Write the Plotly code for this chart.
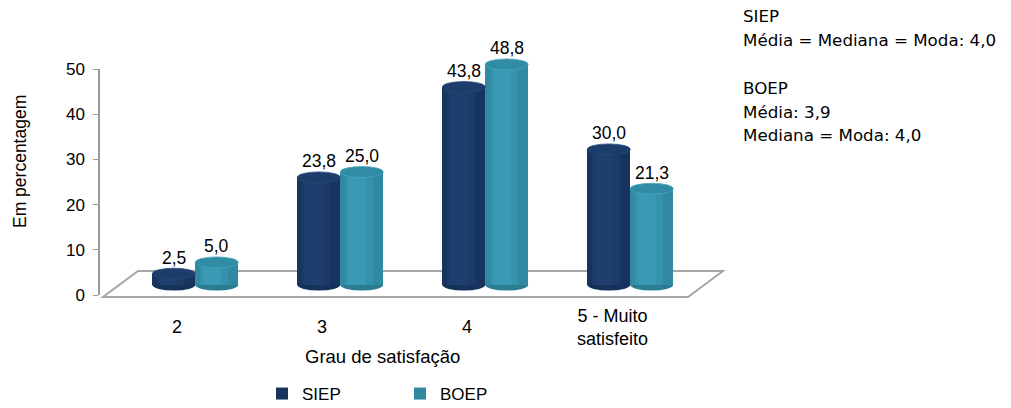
import plotly.graph_objects as go

# ---------------- data ----------------
categories = ["2", "3", "4", "5 - Muito<br>satisfeito"]
series_names = ["SIEP", "BOEP"]
siep = [2.5, 23.8, 43.8, 30.0]
boep = [5.0, 25.0, 48.8, 21.3]
y_ticks = [0, 10, 20, 30, 40, 50]
stats_lines = ["SIEP", "Média = Mediana = Moda: 4,0", "", "BOEP", "Média: 3,9", "Mediana = Moda: 4,0"]
x_title = "Grau de satisfação"
y_title = "Em percentagem"

# ---------------- geometry (pixels) ----------------
W, H = 1011, 408
PL, PR, PT, PB = 100, 690, 30, 300          # plot area box in pixels
cat0_px, cat_step = 177.0, 145.0             # centre of first category, spacing
y0_px, y50_px = 295.0, 69.0                  # value axis 0 and 50
unit = (y0_px - y50_px) / 50.0               # px per unit
bar_zero_px = 285.0                          # 3D bars stand a little higher
ell_ry = 5.5 / unit                          # ellipse half-height in units

FONT = "Liberation Sans, Arial"


def xpx2d(p):
    return (p - cat0_px) / cat_step


def paper_x(p):
    return (p - PL) / (PR - PL)


def paper_y(p):
    return (PB - p) / (PB - PT)


x_range = [xpx2d(PL), xpx2d(PR)]
y2_range = [(bar_zero_px - PB) / unit, (bar_zero_px - PT) / unit]

bar_w = 0.296
offsets = [-0.17, -0.17 + bar_w]
# layered colours from the outer edge to the highlight (pseudo cylinder shading)
palettes = [
    dict(layers=["#152f55", "#18345e", "#1b3a66", "#1e3f6d"], top="#1c3c69", rim="#24497c", bottom="#16315a"),
    dict(layers=["#2b7c93", "#3089a1", "#3592ab", "#3a9ab3"], top="#308ca5", rim="#45a6bf", bottom="#2b7c93"),
]
layer_geom = [(1.0, 0.0), (0.86, 0.04), (0.66, 0.10), (0.42, 0.18)]  # (width fraction, offset fraction)

fig = go.Figure()

# invisible trace so the tick-axis subplot exists
fig.add_trace(go.Scatter(x=[0], y=[0], mode="markers", marker=dict(opacity=0),
                         showlegend=False, hoverinfo="skip", xaxis="x", yaxis="y"))

idx = list(range(len(categories)))
shapes = []
annotations = []
for s, (name, vals) in enumerate(zip(series_names, [siep, boep])):
    pal = palettes[s]
    off = offsets[s]
    for k, ((wf, of), col) in enumerate(zip(layer_geom, pal["layers"])):
        fig.add_trace(go.Bar(x=idx, y=vals, name=name, width=bar_w * wf, offset=off + bar_w * of,
                             marker=dict(color=pal["layers"][1] if k == 0 else col, line=dict(width=0)),
                             xaxis="x", yaxis="y2", legendgroup=name, showlegend=(k == 0),
                             hoverinfo="y" if k == 0 else "skip"))
    for i, v in zip(idx, vals):
        x0, x1 = i + off, i + off + bar_w
        shapes.append(dict(type="circle", xref="x", yref="y2", x0=x0, x1=x1,
                           y0=-ell_ry, y1=ell_ry, fillcolor=pal["bottom"],
                           line=dict(width=0), layer="below"))
        shapes.append(dict(type="circle", xref="x", yref="y2", x0=x0, x1=x1,
                           y0=v - ell_ry, y1=v + ell_ry, fillcolor=pal["top"],
                           line=dict(width=0.8, color=pal["rim"]), layer="above"))
        annotations.append(dict(x=(x0 + x1) / 2, y=v, xref="x", yref="y2",
                                text=f"{v:.1f}".replace(".", ","), showarrow=False,
                                yanchor="bottom", yshift=4,
                                font=dict(family=FONT, size=17.5, color="#000")))

# floor parallelogram (outline)
floor = [(103, 297), (688, 297), (723, 271), (138, 271)]
path = "M " + " L ".join(f"{paper_x(px)},{paper_y(py)}" for px, py in floor) + " Z"
shapes.insert(0, dict(type="path", xref="paper", yref="paper", path=path,
                      line=dict(color="#a6a6a6", width=2), fillcolor="rgba(0,0,0,0)", layer="below"))

# category labels
for i, c in enumerate(categories):
    annotations.append(dict(x=i, y=paper_y(327), xref="x", yref="paper", text=c,
                            showarrow=False, yanchor="middle", align="center",
                            font=dict(family=FONT, size=18, color="#000")))

# axis titles
annotations.append(dict(x=paper_x(382), y=paper_y(356), xref="paper", yref="paper", text=x_title,
                        showarrow=False, yanchor="middle",
                        font=dict(family=FONT, size=18.5, color="#000")))
annotations.append(dict(x=paper_x(20), y=paper_y(162), xref="paper", yref="paper", text=y_title,
                        showarrow=False, textangle=-90, xanchor="center", yanchor="middle",
                        font=dict(family=FONT, size=17.5, color="#000")))

# statistics text block
line_y = [16, 40, None, 88, 112, 135]
for t, ly in zip(stats_lines, line_y):
    if ly is None:
        continue
    annotations.append(dict(x=paper_x(741), y=paper_y(ly), xref="paper", yref="paper", text=t,
                            showarrow=False, xanchor="left", yanchor="middle",
                            font=dict(family="DejaVu Sans", size=16.7, color="#000")))

fig.update_layout(
    width=W, height=H,
    margin=dict(l=PL, r=W - PR, t=PT, b=H - PB, pad=0, autoexpand=False),
    paper_bgcolor="white", plot_bgcolor="rgba(0,0,0,0)",
    barmode="overlay", bargap=0,
    showlegend=True,
    legend=dict(orientation="h", x=paper_x(262), y=paper_y(376), xanchor="left", yanchor="top",
                font=dict(family=FONT, size=17, color="#000"),
                itemwidth=30, entrywidth=93, traceorder="normal", bgcolor="rgba(0,0,0,0)"),
    xaxis=dict(range=x_range, domain=[0, 1], anchor="y", showgrid=False, zeroline=False,
               showline=False, showticklabels=False, ticks="", fixedrange=True),
    yaxis=dict(range=[0, 50], domain=[paper_y(y0_px), paper_y(y50_px)], anchor="x",
               tickvals=y_ticks, ticktext=[str(t) for t in y_ticks],
               showgrid=False, zeroline=False, showline=True, linecolor="#9a9a9a", linewidth=1.5,
               ticks="outside", ticklen=5, tickcolor="#9a9a9a", ticklabelstandoff=5,
               tickfont=dict(family=FONT, size=17, color="#000")),
    yaxis2=dict(range=y2_range, domain=[0, 1], anchor="x", visible=False, showgrid=False, zeroline=False),
    shapes=shapes, annotations=annotations,
)

fig.write_html("out.html")
